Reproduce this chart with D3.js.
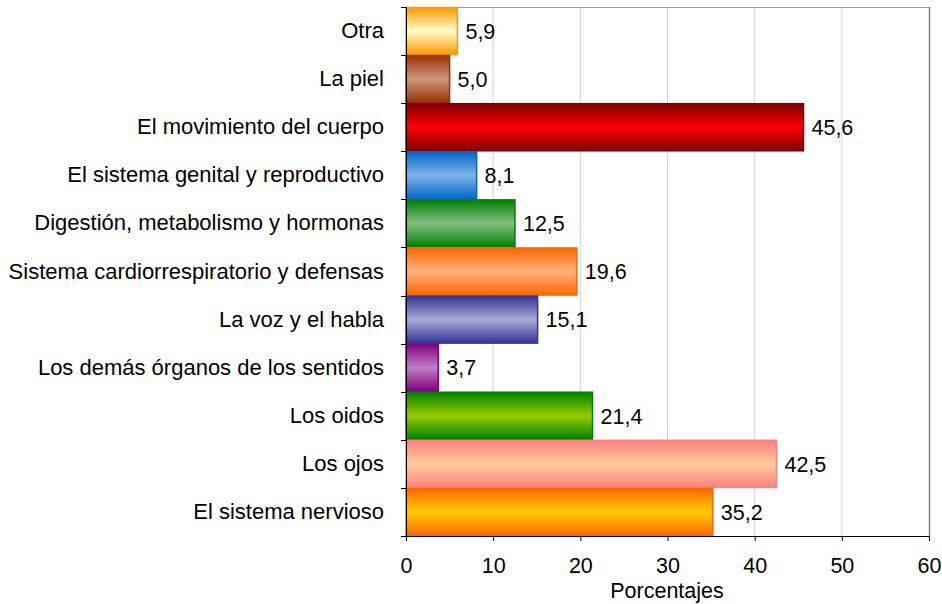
<!DOCTYPE html>
<html>
<head>
<meta charset="utf-8">
<script src="https://cdn.jsdelivr.net/npm/d3@7"></script>
<style>
  body { margin: 0; background: #fff; }
  text { font-family: "Liberation Sans", Arial, sans-serif; fill: #000; }
</style>
</head>
<body>
<svg id="chart" width="942" height="604"></svg>
<script>
// categories, top to bottom
var categories = ["Otra", "La piel", "El movimiento del cuerpo", "El sistema genital y reproductivo",
  "Digestión, metabolismo y hormonas", "Sistema cardiorrespiratorio y defensas", "La voz y el habla",
  "Los demás órganos de los sentidos", "Los oidos", "Los ojos", "El sistema nervioso"];
var values = [5.9, 5.0, 45.6, 8.1, 12.5, 19.6, 15.1, 3.7, 21.4, 42.5, 35.2];
var valueLabels = ["5,9", "5,0", "45,6", "8,1", "12,5", "19,6", "15,1", "3,7", "21,4", "42,5", "35,2"];
var edgeColors = ["#FF9900", "#993300", "#800000", "#0066CC", "#008000", "#FF6600", "#333399", "#800080", "#008000", "#FF8080", "#FF6600"];
var midColors = ["#FFFFCC", "#CC9980", "#FF0000", "#80B3E6", "#80C080", "#FFB380", "#AAAAD5", "#C080C0", "#99CC00", "#FFCC99", "#FFCC00"];
var xTicks = [0, 10, 20, 30, 40, 50, 60];

var svg = d3.select("#chart");
var mLeft = 406, mRight = 929, mTop = 7, mBottom = 536;
var fs = "21.5px";

var x = d3.scaleLinear().domain([0, 60]).range([mLeft, mRight]);
var y = d3.scaleBand().domain(categories).range([mTop, mBottom]).padding(0);

// gradients
var defs = svg.append("defs");
categories.forEach(function(c, i) {
  var g = defs.append("linearGradient").attr("id", "g" + i)
    .attr("x1", 0).attr("y1", 0).attr("x2", 0).attr("y2", 1);
  g.append("stop").attr("offset", "0%").attr("stop-color", edgeColors[i]);
  g.append("stop").attr("offset", "50%").attr("stop-color", midColors[i]);
  g.append("stop").attr("offset", "100%").attr("stop-color", edgeColors[i]);
});

// grid
svg.append("g").selectAll("line").data(xTicks.slice(1, -1)).enter().append("line")
  .attr("x1", function(d) { return x(d); }).attr("x2", function(d) { return x(d); })
  .attr("y1", mTop).attr("y2", mBottom)
  .attr("stroke", "#d0d0d0").attr("stroke-width", 1);
// plot border top/right
svg.append("line").attr("x1", mLeft).attr("x2", mRight).attr("y1", mTop + 0.5).attr("y2", mTop + 0.5)
  .attr("stroke", "#a0a0a0");
svg.append("line").attr("x1", mRight + 0.5).attr("x2", mRight + 0.5).attr("y1", mTop).attr("y2", mBottom)
  .attr("stroke", "#808080").attr("stroke-width", 1.5);

// bars
svg.append("g").selectAll("rect").data(values).enter().append("rect")
  .attr("x", x(0))
  .attr("y", function(d, i) { return y(categories[i]) + 0.5; })
  .attr("width", function(d) { return x(d) - x(0); })
  .attr("height", y.bandwidth() - 1)
  .attr("fill", function(d, i) { return "url(#g" + i + ")"; })
  .attr("stroke", function(d, i) { return edgeColors[i]; })
  .attr("stroke-width", 1.5);

// value labels
svg.append("g").selectAll("text").data(values).enter().append("text")
  .attr("x", function(d) { return x(d) + 8; })
  .attr("y", function(d, i) { return y(categories[i]) + y.bandwidth() / 2; })
  .attr("dy", "0.36em")
  .attr("font-size", fs)
  .text(function(d, i) { return valueLabels[i]; });

// y axis
var yAxis = d3.axisLeft(y).tickSize(0).tickPadding(22);
var yg = svg.append("g").attr("transform", "translate(" + mLeft + ",0)").call(yAxis);
yg.select(".domain").remove();
yg.selectAll("text").attr("font-size", "22px").attr("font-family", "Liberation Sans, Arial, sans-serif").attr("fill", "#000");
// band boundary ticks
var bounds = categories.map(function(c) { return y(c); }).concat([mBottom]);
svg.append("g").selectAll("line").data(bounds).enter().append("line")
  .attr("x1", mLeft - 5).attr("x2", mLeft).attr("y1", function(d) { return Math.round(d) + 0.5; })
  .attr("y2", function(d) { return Math.round(d) + 0.5; }).attr("stroke", "#000");
svg.append("line").attr("x1", mLeft + 0.5).attr("x2", mLeft + 0.5).attr("y1", mTop).attr("y2", mBottom)
  .attr("stroke", "#000");

// x axis
var xAxis = d3.axisBottom(x).tickValues(xTicks).tickSize(5).tickPadding(17).tickFormat(d3.format("d"));
var xg = svg.append("g").attr("transform", "translate(0," + mBottom + ")").call(xAxis);
xg.select(".domain").attr("stroke", "#000");
xg.selectAll("text").attr("font-size", fs).attr("font-family", "Liberation Sans, Arial, sans-serif").attr("fill", "#000");

svg.append("text").attr("x", 667).attr("y", 598).attr("text-anchor", "middle")
  .attr("font-size", fs).text("Porcentajes");
</script>
</body>
</html>
